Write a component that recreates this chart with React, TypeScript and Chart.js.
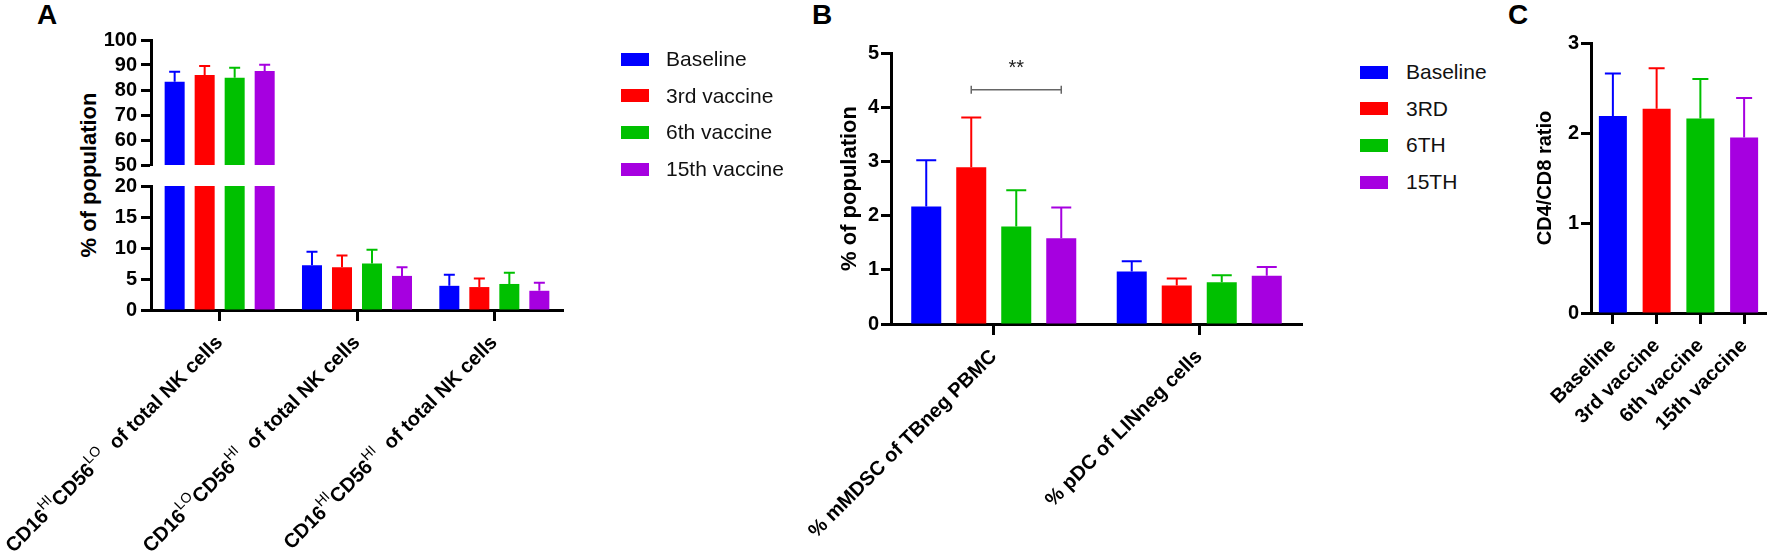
import React, { useEffect, useRef } from "react";
import { Chart, registerables } from "chart.js";

Chart.register(...registerables);

const FONT = '"Liberation Sans", Arial, Helvetica, sans-serif';
const COLORS = ["#0000FF", "#FF0000", "#00C000", "#A600E0"];

// ---- panel A data ----
const seriesA = ["Baseline", "3rd vaccine", "6th vaccine", "15th vaccine"];
const categoriesA = [
  "CD16^{HI}CD56^{LO}  of total NK cells",
  "CD16^{LO}CD56^{HI}  of total NK cells",
  "CD16^{HI}CD56^{HI}  of total NK cells",
];
const baselineA = [83.3, 7.2, 3.9];
const thirdA = [86.0, 6.9, 3.7];
const sixthA = [84.9, 7.5, 4.2];
const fifteenthA = [87.6, 5.5, 3.1];
const baselineErrA = [4.0, 2.2, 1.8];
const thirdErrA = [3.6, 1.9, 1.4];
const sixthErrA = [4.0, 2.2, 1.8];
const fifteenthErrA = [2.5, 1.4, 1.3];
const upperTicksA = [50, 60, 70, 80, 90, 100];
const lowerTicksA = [0, 5, 10, 15, 20];

// ---- panel B data ----
const seriesB = ["Baseline", "3RD", "6TH", "15TH"];
const categoriesB = ["% mMDSC of TBneg PBMC", "% pDC of LINneg cells"];
const baselineB = [2.17, 0.97];
const thirdB = [2.89, 0.71];
const sixthB = [1.8, 0.77];
const fifteenthB = [1.58, 0.89];
const baselineErrB = [0.85, 0.19];
const thirdErrB = [0.92, 0.13];
const sixthErrB = [0.67, 0.13];
const fifteenthErrB = [0.57, 0.16];
const ticksB = [0, 1, 2, 3, 4, 5];
const significanceB = { from: 1, to: 3, category: 0, level: 4.32, textLevel: 4.72, label: "**" };

// ---- panel C data ----
const categoriesC = ["Baseline", "3rd vaccine", "6th vaccine", "15th vaccine"];
const ratioC = [2.19, 2.27, 2.16, 1.95];
const ratioErrC = [0.47, 0.45, 0.44, 0.44];
const ticksC = [0, 1, 2, 3];

const tickFont = { family: FONT, size: 20, weight: "bold" as const };

const errorBars = (cap: number) => ({
  id: "errorBars",
  afterDatasetsDraw(chart: any) {
    const { ctx, chartArea } = chart;
    ctx.save();
    ctx.beginPath();
    ctx.rect(chartArea.left, chartArea.top - 2, chartArea.right - chartArea.left, chartArea.bottom - chartArea.top + 2);
    ctx.clip();
    chart.data.datasets.forEach((ds: any, i: number) => {
      const meta = chart.getDatasetMeta(i);
      const yScale = chart.scales[meta.yAxisID];
      meta.data.forEach((bar: any, j: number) => {
        const err = ds.errors?.[j];
        if (err == null) return;
        const top = yScale.getPixelForValue(ds.data[j] + err);
        ctx.strokeStyle = Array.isArray(ds.backgroundColor) ? ds.backgroundColor[j] : ds.backgroundColor;
        ctx.lineWidth = 2;
        ctx.beginPath();
        ctx.moveTo(bar.x, bar.y);
        ctx.lineTo(bar.x, top);
        ctx.moveTo(bar.x - cap / 2, top);
        ctx.lineTo(bar.x + cap / 2, top);
        ctx.stroke();
      });
    });
    ctx.restore();
  },
});

// tick labels with superscripts (CD16^{HI} ...)
const richXLabels = (labels: string[], gap: number) => ({
  id: "richXLabels",
  afterDraw(chart: any) {
    const { ctx } = chart;
    const scale = chart.scales.x;
    labels.forEach((label, i) => {
      const segs = label
        .split(/\^\{([^}]*)\}/)
        .map((text, k) => ({ text, sup: k % 2 === 1 }))
        .filter((s) => s.text);
      const fontOf = (s: { sup: boolean }) => (s.sup ? `400 14px ${FONT}` : `700 20px ${FONT}`);
      let total = 0;
      for (const s of segs) {
        ctx.font = fontOf(s);
        total += ctx.measureText(s.text).width;
      }
      ctx.save();
      ctx.translate(scale.getPixelForTick(i), scale.top + gap);
      ctx.rotate(-Math.PI / 4);
      ctx.fillStyle = "#000";
      ctx.textBaseline = "middle";
      ctx.textAlign = "left";
      let x = -total;
      for (const s of segs) {
        ctx.font = fontOf(s);
        ctx.fillText(s.text, x, s.sup ? -8 : 0);
        x += ctx.measureText(s.text).width;
      }
      ctx.restore();
    });
  },
});

const significance = (sig: typeof significanceB) => ({
  id: "significance",
  afterDatasetsDraw(chart: any) {
    const { ctx } = chart;
    const y = chart.scales.y.getPixelForValue(sig.level);
    const ty = chart.scales.y.getPixelForValue(sig.textLevel);
    const x1 = chart.getDatasetMeta(sig.from).data[sig.category].x;
    const x2 = chart.getDatasetMeta(sig.to).data[sig.category].x;
    ctx.save();
    ctx.strokeStyle = "#666";
    ctx.lineWidth = 1.5;
    ctx.beginPath();
    ctx.moveTo(x1, y);
    ctx.lineTo(x2, y);
    ctx.moveTo(x1, y - 4);
    ctx.lineTo(x1, y + 4);
    ctx.moveTo(x2, y - 4);
    ctx.lineTo(x2, y + 4);
    ctx.stroke();
    ctx.fillStyle = "#222";
    ctx.font = `400 20px ${FONT}`;
    ctx.textAlign = "center";
    ctx.textBaseline = "middle";
    ctx.fillText(sig.label, (x1 + x2) / 2, ty);
    ctx.restore();
  },
});

const yAxis = (ticks: number[], width: number, pad: number, title?: any) => ({
  min: ticks[0],
  max: ticks[ticks.length - 1],
  ticks: { stepSize: ticks[1] - ticks[0], autoSkip: false, color: "#000", font: tickFont, padding: pad },
  grid: { drawOnChartArea: false, drawTicks: true, tickLength: 10, tickWidth: 3, tickColor: "#000" },
  border: { display: true, width: 3, color: "#000" },
  title: title || { display: false },
  afterFit: (s: any) => {
    s.width = width;
    s.paddingTop = 0;
    s.paddingBottom = 0;
  },
});

const xAxis = (height: number, showLabels: boolean) => ({
  offset: true,
  ticks: {
    display: showLabels,
    color: "#000",
    font: tickFont,
    minRotation: 45,
    maxRotation: 45,
    autoSkip: false,
    padding: 10,
  },
  grid: { offset: false, drawOnChartArea: false, drawTicks: true, tickLength: 11, tickWidth: 3, tickColor: "#000" },
  border: { display: true, width: 3, color: "#000" },
  afterFit: (s: any) => {
    s.height = height;
    s.paddingLeft = 0;
    s.paddingRight = 0;
  },
});

const baseOptions = (padding: any) => ({
  responsive: true,
  maintainAspectRatio: false,
  animation: false as const,
  events: [],
  layout: { padding },
  plugins: { legend: { display: false }, tooltip: { enabled: false } },
});

const datasetsA = () =>
  [baselineA, thirdA, sixthA, fifteenthA].map((data, i) => ({
    label: seriesA[i],
    data,
    errors: [baselineErrA, thirdErrA, sixthErrA, fifteenthErrA][i],
    backgroundColor: COLORS[i],
    borderWidth: 0,
    clip: 0,
    categoryPercentage: 0.874,
    barPercentage: 0.667,
  }));

const plainLabelsA = categoriesA.map((c) => c.replace(/\^\{([^}]*)\}/g, "$1"));

const configAUpper = () => ({
  type: "bar",
  data: { labels: plainLabelsA, datasets: datasetsA() },
  options: {
    ...baseOptions({ top: 20, right: 7, bottom: 15, left: 0 }),
    scales: {
      x: { ...xAxis(0, false), display: false },
      y: yAxis(upperTicksA, 151, 4),
    },
  },
  plugins: [errorBars(11)],
});

const configALower = () => ({
  type: "bar",
  data: { labels: plainLabelsA, datasets: datasetsA() },
  options: {
    ...baseOptions({ top: 16, right: 7, bottom: 0, left: 0 }),
    scales: {
      x: xAxis(247, false),
      y: yAxis(lowerTicksA, 151, 4),
    },
  },
  plugins: [errorBars(11), richXLabels(categoriesA, 29.5)],
});

const configB = () => ({
  type: "bar",
  data: {
    labels: categoriesB,
    datasets: [baselineB, thirdB, sixthB, fifteenthB].map((data, i) => ({
      label: seriesB[i],
      data,
      errors: [baselineErrB, thirdErrB, sixthErrB, fifteenthErrB][i],
      backgroundColor: COLORS[i],
      borderWidth: 0,
      clip: 0,
      categoryPercentage: 0.876,
      barPercentage: 0.667,
    })),
  },
  options: {
    ...baseOptions({ top: 33, right: 8, bottom: 0, left: 0 }),
    scales: {
      x: xAxis(233, true),
      y: yAxis(ticksB, 111, 2, {
        display: true,
        text: "% of population",
        color: "#000",
        font: { family: FONT, size: 22, weight: "bold" },
        padding: { top: 57, bottom: 0 },
      }),
    },
  },
  plugins: [errorBars(20), significance(significanceB)],
});

const configC = () => ({
  type: "bar",
  data: {
    labels: categoriesC,
    datasets: [
      {
        label: "CD4/CD8 ratio",
        data: ratioC,
        errors: ratioErrC,
        backgroundColor: COLORS,
        borderWidth: 0,
        clip: 0,
        categoryPercentage: 0.64,
        barPercentage: 1,
      },
    ],
  },
  options: {
    ...baseOptions({ top: 23, right: 6, bottom: 0, left: 0 }),
    scales: {
      x: xAxis(244, true),
      y: yAxis(ticksC, 71, 2, {
        display: true,
        text: "CD4/CD8 ratio",
        color: "#000",
        font: { family: FONT, size: 20, weight: "bold" },
        padding: { top: 13, bottom: 0 },
      }),
    },
  },
  plugins: [errorBars(16)],
});

type Box = { left: number; top: number; width: number; height: number };

const ChartBox: React.FC<{ box: Box; config: () => any }> = ({ box, config }) => {
  const canvasRef = useRef<HTMLCanvasElement | null>(null);
  useEffect(() => {
    if (!canvasRef.current) return;
    const chart = new Chart(canvasRef.current, config());
    return () => chart.destroy();
  }, [config]);
  return (
    <div style={{ position: "absolute", ...box }}>
      <canvas ref={canvasRef} />
    </div>
  );
};

const Legend: React.FC<{ labels: string[]; boxX: number; textX: number; firstY: number }> = ({
  labels,
  boxX,
  textX,
  firstY,
}) => (
  <>
    {labels.map((label, i) => {
      const cy = firstY + i * 36.7;
      return (
        <React.Fragment key={label}>
          <div
            style={{ position: "absolute", left: boxX, top: cy - 6.5, width: 28, height: 13, background: COLORS[i] }}
          />
          <div
            style={{
              position: "absolute",
              left: textX,
              top: cy - 12,
              fontSize: 21,
              lineHeight: "24px",
              whiteSpace: "nowrap",
              color: "#111",
            }}
          >
            {label}
          </div>
        </React.Fragment>
      );
    })}
  </>
);

const PanelLetter: React.FC<{ text: string; left: number }> = ({ text, left }) => (
  <div style={{ position: "absolute", left, top: 1, fontSize: 28, lineHeight: "28px", fontWeight: "bold" }}>
    {text}
  </div>
);

export default function App() {
  return (
    <div
      style={{
        position: "absolute",
        left: 0,
        top: 0,
        width: 1772,
        height: 557,
        background: "#fff",
        fontFamily: FONT,
        color: "#000",
        overflow: "hidden",
      }}
    >
      <PanelLetter text="A" left={37} />
      <PanelLetter text="B" left={812} />
      <PanelLetter text="C" left={1508} />

      <div
        style={{
          position: "absolute",
          left: 89,
          top: 175,
          transform: "translate(-50%, -50%) rotate(-90deg)",
          fontSize: 22,
          fontWeight: "bold",
          whiteSpace: "nowrap",
        }}
      >
        % of population
      </div>

      <ChartBox box={{ left: 0, top: 20, width: 570, height: 160 }} config={configAUpper} />
      <ChartBox box={{ left: 0, top: 170, width: 570, height: 387 }} config={configALower} />
      <ChartBox box={{ left: 780, top: 20, width: 530, height: 537 }} config={configB} />
      <ChartBox box={{ left: 1520, top: 20, width: 252, height: 537 }} config={configC} />

      <Legend labels={seriesA} boxX={621} textX={666} firstY={59} />
      <Legend labels={seriesB} boxX={1360} textX={1406} firstY={72} />
    </div>
  );
}
